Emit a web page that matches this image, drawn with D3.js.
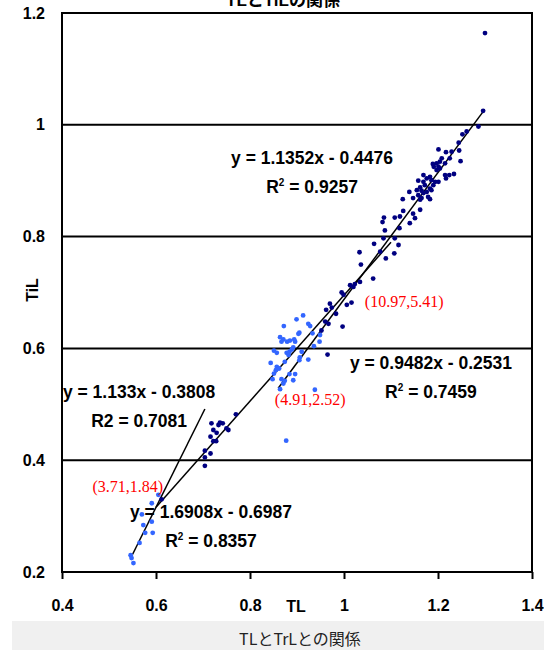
<!DOCTYPE html>
<html>
<head>
<meta charset="utf-8">
<script src="https://cdn.jsdelivr.net/npm/d3@7"></script>
<style>
  body { margin: 0; background: #fff; }
  svg { display: block; }
  text { font-family: "Liberation Sans", Arial, "Noto Sans CJK JP", sans-serif; }
</style>
</head>
<body>
<svg></svg>
<script>
// Achsen
const xTicks = [0.4, 0.6, 0.8, 1, 1.2, 1.4];
const yTicks = [0.2, 0.4, 0.6, 0.8, 1, 1.2];
const gridValues = [0.4, 0.6, 0.8, 1];

// dunkelblaue Punkte [TL, TiL]
const darkPoints = [
  [1.300, 1.164], [1.296, 1.025], [1.286, 0.997], [1.261, 0.988], [1.252, 0.983], [1.244, 0.968],
  [1.201, 0.956], [1.217, 0.951], [1.229, 0.952], [1.245, 0.954], [1.225, 0.940], [1.248, 0.935],
  [1.208, 0.940], [1.204, 0.934], [1.197, 0.931], [1.189, 0.930], [1.191, 0.925], [1.201, 0.925],
  [1.215, 0.931], [1.197, 0.919], [1.204, 0.922], [1.215, 0.910], [1.224, 0.910], [1.234, 0.912],
  [1.217, 0.904], [1.169, 0.910], [1.183, 0.907], [1.176, 0.904], [1.186, 0.901], [1.169, 0.898],
  [1.158, 0.900], [1.194, 0.898], [1.201, 0.898], [1.190, 0.892], [1.172, 0.892], [1.183, 0.886],
  [1.162, 0.888], [1.155, 0.883], [1.165, 0.882], [1.176, 0.880], [1.186, 0.883], [1.169, 0.878],
  [1.158, 0.874], [1.179, 0.871], [1.165, 0.869], [1.162, 0.866], [1.183, 0.867], [1.139, 0.880],
  [1.125, 0.867], [1.147, 0.869], [1.162, 0.848], [1.126, 0.846], [1.147, 0.841], [1.151, 0.833],
  [1.119, 0.836], [1.108, 0.834], [1.085, 0.834], [1.082, 0.826], [1.140, 0.824], [1.118, 0.815],
  [1.087, 0.811], [1.084, 0.797], [1.108, 0.797], [1.116, 0.785], [1.064, 0.787], [1.077, 0.773],
  [1.107, 0.770], [1.033, 0.772], [1.089, 0.761], [1.036, 0.750], [1.062, 0.725], [1.034, 0.719],
  [1.023, 0.715], [1.013, 0.713], [1.020, 0.710], [0.995, 0.700], [0.999, 0.696], [1.016, 0.682],
  [1.006, 0.678], [0.970, 0.680], [0.974, 0.673], [0.962, 0.669], [0.983, 0.662], [0.967, 0.644],
  [0.960, 0.648], [0.997, 0.639], [0.952, 0.632], [0.965, 0.589],
  [0.770, 0.482], [0.718, 0.466], [0.736, 0.467], [0.742, 0.466], [0.733, 0.463], [0.750, 0.457],
  [0.754, 0.454], [0.722, 0.454], [0.729, 0.449], [0.716, 0.442], [0.722, 0.434], [0.728, 0.434],
  [0.704, 0.417], [0.716, 0.412], [0.704, 0.405], [0.704, 0.390], [0.612, 0.330]
];

// hellblaue Punkte [TL, TiL]
const lightPoints = [
  [0.913, 0.659], [0.924, 0.644], [0.928, 0.640], [0.899, 0.652], [0.872, 0.640], [0.905, 0.628],
  [0.903, 0.626], [0.933, 0.627], [0.864, 0.620], [0.871, 0.616], [0.867, 0.612], [0.885, 0.614],
  [0.879, 0.612], [0.896, 0.612], [0.894, 0.616], [0.949, 0.624], [0.948, 0.612], [0.889, 0.598],
  [0.884, 0.594], [0.892, 0.602], [0.851, 0.596], [0.857, 0.592], [0.878, 0.592], [0.882, 0.588],
  [0.910, 0.594], [0.906, 0.584], [0.905, 0.579], [0.924, 0.580], [0.874, 0.576], [0.936, 0.604],
  [0.844, 0.574], [0.857, 0.567], [0.855, 0.561], [0.862, 0.564], [0.851, 0.555], [0.848, 0.545],
  [0.867, 0.545], [0.874, 0.542], [0.871, 0.537], [0.884, 0.554], [0.896, 0.554], [0.892, 0.543],
  [0.864, 0.527], [0.938, 0.526], [0.877, 0.435],
  [0.605, 0.338], [0.591, 0.323], [0.570, 0.303], [0.591, 0.290], [0.573, 0.284], [0.577, 0.270],
  [0.593, 0.270], [0.565, 0.252], [0.546, 0.230], [0.548, 0.225], [0.552, 0.216]
];

// Trendlinien: Steigung, Achsenabschnitt, Bereich
const trendSlopes = [1.6908, 0.9482, 1.1352];
const trendIntercepts = [-0.6987, -0.2531, -0.4476];
const trendFrom = [0.55, 0.60, 0.86];
const trendTo = [0.704, 1.10, 1.296];

// Beschriftungen der Trendlinien
const eqLabels = [
  { x: 0.932, y: 0.930, eq: "y = 1.1352x - 0.4476", r: "0.9257", sup: true },
  { x: 1.185, y: 0.563, eq: "y = 0.9482x - 0.2531", r: "0.7459", sup: true },
  { x: 0.564, y: 0.511, eq: "y = 1.133x - 0.3808", r: "0.7081", sup: false },
  { x: 0.717, y: 0.297, eq: "y = 1.6908x - 0.6987", r: "0.8357", sup: true }
];

// rote Anmerkungen
const noteTexts = ["(10.97,5.41)", "(4.91,2.52)", "(3.71,1.84)"];
const noteX = [1.128, 0.928, 0.540];
const noteY = [0.674, 0.499, 0.343];

const width = 544;
const height = 650;
const margin = { top: 13, right: 12, bottom: 78, left: 62 };
const plotW = width - margin.left - margin.right;
const plotH = height - margin.top - margin.bottom;

const svg = d3.select("svg").attr("width", width).attr("height", height);

// grauer Streifen unten
svg.append("rect")
  .attr("x", 12).attr("y", 621)
  .attr("width", width - 12).attr("height", height - 621)
  .attr("fill", "#f0f0f0");

const x = d3.scaleLinear().domain([0.4, 1.4]).range([0, plotW]);
const y = d3.scaleLinear().domain([0.2, 1.2]).range([plotH, 0]);

const g = svg.append("g")
  .attr("transform", "translate(" + margin.left + "," + margin.top + ")");

// Gitterlinien
g.selectAll(".grid")
  .data(gridValues)
  .enter()
  .append("line")
  .attr("x1", 0).attr("x2", plotW)
  .attr("y1", (d) => y(d)).attr("y2", (d) => y(d))
  .attr("stroke", "#000")
  .attr("stroke-width", 2);

// Rahmen
g.append("rect")
  .attr("width", plotW).attr("height", plotH)
  .attr("fill", "none")
  .attr("stroke", "#000")
  .attr("stroke-width", 2);

// X-Achse
const xAxis = g.append("g")
  .attr("transform", "translate(0," + plotH + ")")
  .call(d3.axisBottom(x).tickValues(xTicks).tickSize(7).tickPadding(21).tickFormat(d3.format("")));
xAxis.select(".domain").remove();
xAxis.selectAll("line").attr("stroke-width", 2);
xAxis.selectAll("text")
  .style("font-size", "16px").style("font-weight", "bold").attr("fill", "#000");

// Y-Achse
const yAxis = g.append("g")
  .call(d3.axisLeft(y).tickValues(yTicks).tickSize(0).tickPadding(17).tickFormat(d3.format("")));
yAxis.select(".domain").remove();
yAxis.selectAll("text")
  .style("font-size", "16px").style("font-weight", "bold").attr("fill", "#000");

// Achsentitel
svg.append("text")
  .attr("x", 296).attr("y", 612)
  .attr("text-anchor", "middle")
  .style("font-size", "16px").style("font-weight", "bold")
  .text("TL");

svg.append("text")
  .attr("transform", "rotate(-90)")
  .attr("x", -290).attr("y", 38)
  .attr("text-anchor", "middle")
  .style("font-size", "16px").style("font-weight", "bold")
  .text("TiL");

// Titel oben (im Original abgeschnitten)
svg.append("text")
  .attr("x", 283).attr("y", 6)
  .attr("text-anchor", "middle")
  .style("font-size", "17px").style("font-weight", "bold")
  .text("TLとTiLの関係");

// Titel unten
svg.append("text")
  .attr("x", 300).attr("y", 645)
  .attr("text-anchor", "middle")
  .attr("fill", "#222")
  .style("font-size", "16px")
  .style("font-family", "'Noto Sans CJK JP', sans-serif")
  .text("TLとTrLとの関係");

// Trendlinien
const line = d3.line().x((d) => x(d[0])).y((d) => y(d[1]));
trendSlopes.forEach((a, i) => {
  const pts = [trendFrom[i], trendTo[i]].map((v) => [v, a * v + trendIntercepts[i]]);
  g.append("path")
    .attr("d", line(pts))
    .attr("fill", "none")
    .attr("stroke", "#000")
    .attr("stroke-width", 1.5);
});

// Punkte
g.selectAll(".light")
  .data(lightPoints)
  .enter()
  .append("circle")
  .attr("cx", (d) => x(d[0]))
  .attr("cy", (d) => y(d[1]))
  .attr("r", 2.4)
  .attr("fill", "#3366ff");

g.selectAll(".dark")
  .data(darkPoints)
  .enter()
  .append("circle")
  .attr("cx", (d) => x(d[0]))
  .attr("cy", (d) => y(d[1]))
  .attr("r", 2.4)
  .attr("fill", "#000080");

// Gleichungen
eqLabels.forEach((l) => {
  g.append("text")
    .attr("x", x(l.x)).attr("y", y(l.y))
    .attr("text-anchor", "middle")
    .style("font-size", "17.5px").style("font-weight", "bold")
    .text(l.eq);
  const r = g.append("text")
    .attr("x", x(l.x)).attr("y", y(l.y) + 29)
    .attr("text-anchor", "middle")
    .style("font-size", "17.5px").style("font-weight", "bold");
  if (l.sup) {
    r.append("tspan").text("R");
    r.append("tspan").attr("dy", -7).style("font-size", "10px").text("2");
    r.append("tspan").attr("dy", 7).text(" = " + l.r);
  } else {
    r.text("R2 = " + l.r);
  }
});

// rote Anmerkungen
noteTexts.forEach((t, i) => {
  g.append("text")
    .attr("x", x(noteX[i])).attr("y", y(noteY[i]))
    .attr("text-anchor", "middle")
    .attr("fill", "#ff0000")
    .style("font-family", "'Liberation Serif', 'Times New Roman', serif")
    .style("font-size", "16px")
    .text(t);
});
</script>
</body>
</html>
